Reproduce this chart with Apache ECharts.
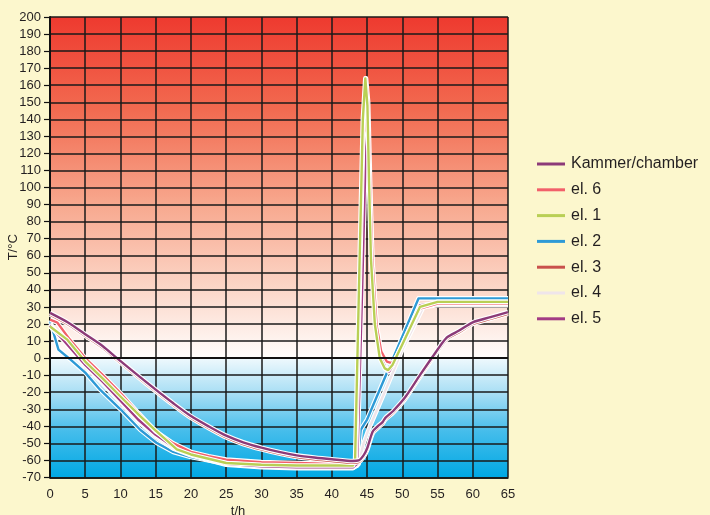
<!DOCTYPE html>
<html>
<head>
<meta charset="utf-8">
<script src="https://cdn.jsdelivr.net/npm/echarts@6/dist/echarts.min.js"></script>
<style>
html,body{margin:0;padding:0;background:#FCF7CD;}
#c{width:710px;height:515px;}
</style>
</head>
<body>
<div id="c"></div>
<script>
// ---- data: [t/h, T/°C] ----
const seriesNames = ['Kammer/chamber', 'el. 6', 'el. 1', 'el. 2', 'el. 3', 'el. 4', 'el. 5'];
const seriesColors = ['#8C3A78', '#F2606A', '#B9CF55', '#2E9AD6', '#C9514C', '#EFE5EA', '#A23C84'];

const chamber = [[0,26.5],[2.5,21],[5,14],[7.5,7],[9.5,0],[12,-8.5],[15,-18.5],[17.5,-26.5],[20,-34],[22.5,-40],[25,-45.5],[27.5,-49.5],[30,-52.5],[32.5,-55],[35,-57],[37.5,-58.3],[40,-59.3],[43,-60.3],[43.8,-60],[44.5,-57],[45,-53],[45.8,-43],[46.5,-40],[47.2,-37.5],[47.6,-35],[48.7,-31],[50.4,-23],[52.5,-10],[54.5,2],[56.3,12],[58,16],[60,21],[62.5,24],[65,27]];
const el6 = [[0,22.5],[1,21],[2.8,11],[5,0],[7.5,-10],[10,-20.5],[12.5,-32],[15,-43],[17.5,-50],[20,-55],[22.5,-57.5],[25,-59.5],[30,-61],[35,-61.5],[40,-62],[43,-62],[43.4,-61],[44.0,50],[44.5,140],[44.85,164],[45.15,150],[45.45,100],[45.75,58],[46.35,19],[47.0,4],[47.8,-2],[48.5,-3],[49.2,1],[50.5,12],[52.5,29],[55,32],[65,32]];
const el1 = [[0,18.5],[2.4,11],[5,-2],[7.5,-12],[10,-22.5],[12.8,-34],[15,-42.5],[18,-53.5],[20,-56.5],[25,-61.5],[30,-62.5],[35,-63],[40,-63],[43,-63],[43.3,-60],[43.9,50],[44.4,140],[44.75,164],[45.05,148],[45.3,100],[45.55,58],[46.1,20],[46.8,0],[47.5,-6],[48,-7],[48.6,-4],[50,8],[52.5,30],[55,33],[65,33]];
const el2 = [[0,22],[1.2,5],[2.8,-0.5],[5,-8.5],[7.1,-18.5],[10,-30],[12.8,-42],[15.1,-49.6],[17.5,-55],[20,-58],[25,-62],[30,-63.5],[35,-64],[40,-64],[43,-64],[43.6,-63],[44.1,-42],[45,-36],[52.3,35],[65,35]];
const el3 = [[0,25.5],[2.5,20],[5,13],[7.5,6],[9.5,-1],[12,-9.5],[15,-19.5],[17.5,-27.5],[20,-35],[22.5,-41],[25,-46.5],[27.5,-50.5],[30,-53.5],[32.5,-56],[35,-58],[37.5,-59.3],[40,-60.3],[43,-61.3],[43.8,-61],[44.5,-58],[45,-54],[45.8,-44],[46.5,-41],[47.2,-38.5],[47.6,-36],[48.7,-32],[50.4,-24],[52.5,-11],[54.5,1],[56.3,11],[58,15],[60,20],[62.5,23],[65,26]];
const el4 = [[0,20],[2,10],[5,-5],[7.5,-15],[10,-26],[12.5,-37],[15,-46],[17.5,-53],[20,-57],[25,-62.5],[30,-64],[35,-64.5],[40,-64.5],[43,-64.5],[43.8,-62],[44.5,-50],[45.2,-42],[48,-15],[50,5],[53,30],[55,31],[65,31]];
const el5 = [[0,19],[2,10],[5,-4],[7.5,-14],[10,-25],[12.5,-36],[15,-45],[17.5,-52],[20,-56],[25,-62],[30,-63.5],[35,-64],[43,-64],[43.6,-62],[44.3,40],[44.8,120],[45.05,132],[45.35,105],[45.7,60],[46.3,22],[47,2],[47.6,-6],[48.1,-8],[48.7,-4],[50,8],[52.5,31],[55,32],[65,32]];
const seriesData = [chamber, el6, el1, el2, el3, el4, el5];

// draw order (first = bottom)
const drawOrder = [3, 5, 6, 1, 2, 4, 0];

const xTicks = {min: 0, max: 65, interval: 5};
const yTicks = {min: -70, max: 200, interval: 10};

const FONT = 'Liberation Sans, Arial, sans-serif';
const chart = echarts.init(document.getElementById('c'));
const series = [];
drawOrder.forEach(function (i) {
  const smooth = (i === 0 || i === 4) ? 0.25 : false;
  series.push({
    name: '_outline' + i, type: 'line', data: seriesData[i], showSymbol: false, symbol: 'none',
    smooth: smooth, silent: true,
    lineStyle: {color: '#ffffff', width: 4.6, join: 'round'}, z: 3
  });
  series.push({
    name: seriesNames[i], type: 'line', data: seriesData[i], showSymbol: false, symbol: 'none',
    smooth: smooth,
    lineStyle: {color: seriesColors[i], width: 2.4, join: 'round'}, itemStyle: {color: seriesColors[i]}, z: 3
  });
});
// zero line
series.push({
  name: '_zero', type: 'line', data: [], silent: true,
  markLine: {silent: true, symbol: 'none', label: {show: false},
    lineStyle: {color: '#111', width: 2, type: 'solid'},
    data: [{yAxis: 0}]}, z: 2
});

const option = {
  animation: false,
  backgroundColor: '#FCF7CD',
  grid: {
    left: 50, right: 202, top: 17, bottom: 37.5, show: true, borderWidth: 0,
    containLabel: false, outerBoundsMode: 'none',
    backgroundColor: new echarts.graphic.LinearGradient(0, 0, 0, 1, [
      {offset: 0, color: '#EE3A2F'},
      {offset: 0.2, color: '#F26A50'},
      {offset: 0.4, color: '#F7A68C'},
      {offset: 0.6, color: '#FCD9CB'},
      {offset: 0.7407, color: '#FFFDFC'},
      {offset: 0.7408, color: '#EFF9FD'},
      {offset: 0.82, color: '#A5DDF4'},
      {offset: 0.9, color: '#45BDEB'},
      {offset: 1, color: '#00A8E4'}
    ])
  },
  legend: {
    orient: 'vertical', left: 537, top: 156, padding: 0,
    itemWidth: 28, itemHeight: 3, itemGap: 9.8, icon: 'rect',
    textStyle: {fontFamily: FONT, fontSize: 16, color: '#231F20', lineHeight: 16, padding: [0,0,0,1]},
    data: seriesNames.map(function (n, i) { return {name: n, itemStyle: {color: seriesColors[i]}}; })
  },
  xAxis: {
    type: 'value', min: xTicks.min, max: xTicks.max, interval: xTicks.interval,
    name: 't/h', nameLocation: 'middle', nameGap: 26,
    nameTextStyle: {fontFamily: FONT, fontSize: 13, color: '#231F20', padding: [0, 82, 0, 0]},
    axisLine: {show: true, onZero: false, lineStyle: {color: '#111', width: 1.5}},
    axisTick: {show: false},
    axisLabel: {fontFamily: FONT, fontSize: 13, color: '#231F20', margin: 10},
    splitLine: {show: true, lineStyle: {color: '#1a1a1a', width: 1.5}}
  },
  yAxis: {
    type: 'value', min: yTicks.min, max: yTicks.max, interval: yTicks.interval,
    name: 'T/°C', nameLocation: 'middle', nameGap: 30, nameRotate: 90, nameMoveOverlap: false,
    nameTextStyle: {fontFamily: FONT, fontSize: 13, color: '#231F20'},
    axisLine: {show: true, lineStyle: {color: '#111', width: 2}},
    axisTick: {show: true, inside: false, length: 6, lineStyle: {color: '#111', width: 1.2}},
    axisLabel: {fontFamily: FONT, fontSize: 13, color: '#231F20', margin: 9},
    splitLine: {show: true, lineStyle: {color: '#1a1a1a', width: 1.5}}
  },
  series: series
};
chart.setOption(option);
</script>
</body>
</html>
